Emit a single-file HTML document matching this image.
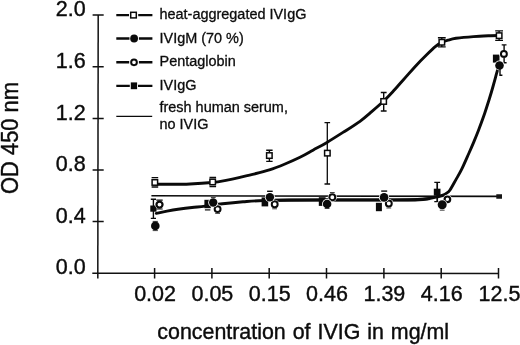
<!DOCTYPE html>
<html>
<head>
<meta charset="utf-8">
<title>OD 450 nm vs concentration of IVIG</title>
<style>
html,body{margin:0;padding:0;background:#fff;}
body{width:520px;height:345px;overflow:hidden;font-family:"Liberation Sans",sans-serif;}
svg{display:block;will-change:transform;}
text{font-family:"Liberation Sans",sans-serif;fill:#0c0c0c;stroke:#0c0c0c;stroke-width:0.4;}
.ax{stroke:#111;stroke-width:1.5;fill:none;}
.tk{font-size:21.5px;}
.lg text{font-size:14.45px;stroke-width:0.3;}
.eb{stroke:#0a0a0a;stroke-width:1.4;fill:none;}
.ebt{stroke:#444;stroke-width:1;fill:none;}
.cv{stroke:#0a0a0a;stroke-width:2.9;fill:none;stroke-linecap:round;stroke-linejoin:round;}
.os{fill:#fff;stroke:#0a0a0a;stroke-width:1.5;}
.oc{fill:#fff;stroke:#0a0a0a;stroke-width:2;}
.fc{fill:#0a0a0a;stroke:#fff;stroke-width:0.9;}
.f{fill:#0a0a0a;}
</style>
</head>
<body>
<svg width="520" height="345" viewBox="0 0 520 345">
<rect width="520" height="345" fill="#fff"/>

<g class="ax">
<path d="M98.2 15.1L97.8 278.5"/>
<path d="M92.3 273.2L498.9 273.5"/>
<path d="M92.6 15.1H103.7M92.6 66.7H103.7M92.6 118.4H103.7M92.6 170.0H103.7M92.6 221.6H103.7"/>
<path d="M154.6 268V278.6M211.9 268V278.6M269.2 268V278.6M326.5 268V278.6M383.9 268V278.6M441.2 268V278.6M498.5 268V278.6"/>
</g>
<g class="tk" text-anchor="end">
<text x="85.7" y="16.4">2.0</text>
<text x="85.7" y="68.0">1.6</text>
<text x="85.7" y="119.7">1.2</text>
<text x="85.7" y="171.3">0.8</text>
<text x="85.7" y="222.9">0.4</text>
<text x="85.7" y="274.4">0.0</text>
</g>
<g class="tk" text-anchor="middle">
<text x="155.1" y="300.5">0.02</text>
<text x="212.4" y="300.5">0.05</text>
<text x="269.7" y="300.5">0.15</text>
<text x="327.0" y="300.5">0.46</text>
<text x="384.4" y="300.5">1.39</text>
<text x="441.7" y="300.5">4.16</text>
<text x="499.5" y="300.5">12.5</text>
</g>
<text transform="translate(157.3 339) scale(1 1.04)" font-size="21.4" word-spacing="1">concentration of IVIG in mg/ml</text>
<text transform="translate(17.7 193.9) rotate(-90) scale(1 1.07)" font-size="21.9">OD 450 nm</text>
<g>
<path d="M116.3 15.1H152.4M116.3 38.5H152.4M116.3 62.2H152.4M116.3 85.9H152.4" stroke="#0a0a0a" stroke-width="2.4" fill="none"/>
<path d="M116.3 116.4H152.2" stroke="#0a0a0a" stroke-width="1.3" fill="none"/>
<path d="M129 15.1H138.2M129.5 38.5H138.9M129.2 62.3H138.9M129.8 85.8H138" stroke="#fff" stroke-width="4" fill="none"/>
<rect class="os" x="130.7" y="12.3" width="5.6" height="5.6" stroke-width="1.5"/>
<circle class="f" cx="134.1" cy="38.5" r="3.9"/>
<circle class="oc" cx="134" cy="62.3" r="2.85" stroke-width="2"/>
<rect class="f" x="130.8" y="82.4" width="6.3" height="6.8"/>
<g class="lg">
<text x="159.5" y="19">heat-aggregated IVIgG</text>
<text x="159.5" y="42.5">IVIgM (70 %)</text>
<text x="159.5" y="66.2">Pentaglobin</text>
<text x="159.5" y="89.7">IVIgG</text>
<text x="159.5" y="112.1">fresh human serum,</text>
<text x="159.5" y="129.1">no IVIG</text>
</g>
</g>
<path d="M151.4 195.75L499 196.35" stroke="#0a0a0a" stroke-width="1.6" fill="none"/>
<path d="M496.3 195H502M496.3 196.5H502M496.3 198H502" stroke="#151515" stroke-width="1.45" fill="none"/>
<path class="cv" d="M156.0 184.2 C158.7 184.2 166.3 184.3 172.0 184.3 C177.7 184.3 183.3 184.3 190.0 184.0 C196.7 183.7 206.0 183.1 212.0 182.5 C218.0 181.9 221.3 181.2 226.0 180.3 C230.7 179.4 235.2 178.4 240.0 177.3 C244.8 176.2 250.1 175.0 255.0 173.8 C259.9 172.6 264.4 171.5 269.4 169.9 C274.4 168.3 279.9 166.1 285.0 164.0 C290.1 161.9 295.3 159.6 300.0 157.3 C304.7 155.0 308.5 152.7 313.0 150.2 C317.5 147.7 322.0 145.4 327.0 142.4 C332.0 139.4 337.5 135.9 343.0 132.4 C348.5 128.9 355.2 124.8 360.0 121.3 C364.8 117.8 368.0 114.8 372.0 111.4 C376.0 108.0 380.7 103.9 384.0 100.8 C387.3 97.7 388.4 96.5 391.6 93.0 C394.8 89.5 399.3 84.3 403.2 80.0 C407.1 75.7 410.9 71.1 414.8 66.9 C418.7 62.7 422.9 58.4 426.4 55.0 C429.9 51.6 433.1 48.5 435.6 46.4 C438.1 44.3 439.5 43.6 441.6 42.6 C443.7 41.6 445.6 40.9 448.0 40.2 C450.4 39.5 451.8 38.9 456.0 38.3 C460.2 37.7 467.6 37.0 473.4 36.6 C479.2 36.2 486.5 35.9 490.8 35.7 C495.1 35.5 497.6 35.5 499.0 35.5"/>
<path class="cv" d="M156.3 213.4 C158.1 213.0 163.4 211.9 167.0 211.2 C170.6 210.5 173.8 209.9 178.0 209.3 C182.2 208.7 187.5 208.0 192.0 207.5 C196.5 207.0 199.9 206.7 205.0 206.1 C210.1 205.5 216.2 204.5 222.5 203.8 C228.8 203.1 236.9 202.3 243.0 201.8 C249.1 201.3 251.2 201.0 259.0 200.7 C266.8 200.4 278.2 200.0 290.0 199.9 C301.8 199.8 316.7 199.9 330.0 199.9 C343.3 199.9 357.0 199.9 370.0 199.9 C383.0 199.9 398.4 199.9 408.0 199.7 C417.6 199.5 422.5 199.1 427.3 198.7 C432.1 198.2 434.3 197.6 436.9 197.0 C439.5 196.4 441.3 195.9 443.0 195.2 C444.7 194.5 445.8 193.8 447.0 192.9 C448.2 192.0 448.5 192.2 450.0 190.0 C451.5 187.8 453.9 183.3 455.8 179.9 C457.7 176.5 459.7 173.3 461.6 169.4 C463.5 165.5 465.5 160.9 467.4 156.6 C469.3 152.3 471.3 148.0 473.2 143.4 C475.1 138.8 477.1 134.1 479.0 129.0 C480.9 123.9 483.1 118.0 484.8 113.0 C486.5 108.0 487.9 103.4 489.3 99.0 C490.7 94.6 491.9 90.5 493.0 86.5 C494.1 82.5 495.1 78.9 496.1 75.2 C497.1 71.5 498.6 66.1 499.1 64.3"/>
<path d="M262 200.4C280 199.9 300 199.9 330 199.9H415C420 199.9 426 199.4 430 198.6" stroke="#0a0a0a" stroke-width="3.05" fill="none"/>
<g class="eb">
<path stroke-width="1.3" d="M327.3 122.7V184.0M324.5 122.7H330.1M324.5 184.0H330.1"/>
<path d="M269.4 150.3V161.4M266.2 150.3H272.6M266.2 161.4H272.6"/>
<path d="M383.7 92.5V111.0M380.8 92.5H386.6M380.8 111.0H386.6"/>
<path d="M441.8 37.8V46.9M437.9 37.8H445.7M437.9 46.9H445.7"/>
<path d="M499.1 30.9V40.4M495.2 30.9H503.0M495.2 40.4H503.0"/>
</g>
<g class="eb"><path stroke-width="1.3" d="M151.6 177.7H158.2M151.6 187.0H158.2M209.5 177.5H216.1M209.5 186.5H216.1"/></g>
<g class="os">
<rect x="152.1" y="179.7" width="5.5" height="5.5"/>
<rect x="209.9" y="179.2" width="5.5" height="5.5"/>
<rect x="266.6" y="152.8" width="5.5" height="5.5"/>
<rect x="324.6" y="150.4" width="5.5" height="5.5"/>
<rect x="380.9" y="98.7" width="5.5" height="5.5"/>
<rect x="439.1" y="39.5" width="5.5" height="5.5"/>
<rect x="496.4" y="32.9" width="5.5" height="5.5"/>
</g>
<g class="eb">
<path d="M153.4 199.2V218.4M150.8 199.2H156.0M150.8 218.4H156.0"/>
<path stroke-width="1.7" d="M437.2 182.3V201.6"/>
<path stroke-width="1.3" d="M434.3 182.3H440.1M434.3 201.6H440.1"/>
<path stroke-width="1.2" d="M204.9 209.9H210.4"/>
</g>
<g class="f">
<rect x="150.3" y="205.5" width="6.2" height="6.2"/>
<rect x="204.4" y="199.8" width="6.4" height="8.4"/>
<rect x="261.6" y="197.4" width="6.6" height="9.0"/>
<rect x="318.8" y="197.2" width="6.8" height="8.7"/>
<rect x="375.9" y="202.8" width="6.0" height="8.4"/>
<rect x="433.8" y="188.7" width="6.7" height="7.0"/>
<rect x="492.9" y="54.6" width="6.6" height="8.0"/>
</g>
<g fill="#fff">
<circle cx="159.5" cy="204.6" r="4.6"/>
<circle cx="217.6" cy="209.1" r="4.6"/>
<circle cx="274.7" cy="204.3" r="4.6"/>
<circle cx="332.3" cy="197.2" r="4.6"/>
<circle cx="388.8" cy="203.5" r="4.6"/>
<circle cx="447.4" cy="199.3" r="4.6"/>
<circle cx="503.9" cy="53.9" r="4.6"/>
</g>
<g class="eb">
<path stroke-width="1.2" d="M156.3 200.2H162.7M156.3 209.0H162.7"/>
<path d="M504.1 44.9V62.7M501.7 44.9H506.5M503.4 62.7H506.6"/>
</g>
<g class="ebt"><path d="M215.2 213.4H220.0M272.2 208.8H277.0M329.9 192.5H334.7M386.4 208.0H391.2"/></g>
<g class="oc">
<circle cx="159.5" cy="204.6" r="3.05" stroke-width="2.2"/>
<circle cx="217.6" cy="209.1" r="2.95"/>
<circle cx="274.7" cy="204.3" r="2.95"/>
<circle cx="332.3" cy="197.2" r="2.95"/>
<circle cx="388.8" cy="203.5" r="2.95"/>
<circle cx="447.4" cy="199.3" r="2.8" stroke-width="2.2"/>
<circle cx="503.9" cy="53.9" r="2.95"/>
</g>
<g fill="#fff">
<circle cx="155.3" cy="225.9" r="5.1"/>
<circle cx="213.2" cy="202.5" r="5.0"/>
<circle cx="269.9" cy="197.2" r="5.0"/>
<circle cx="327.1" cy="204.0" r="5.1"/>
<circle cx="384.1" cy="197.4" r="5.1"/>
<circle cx="442.2" cy="204.7" r="5.2"/>
<circle cx="499.5" cy="65.5" r="5.1"/>
</g>
<g class="eb">
<path d="M267.1 191.3H272.7"/>
<path d="M381.2 191.1H387.2"/>
<path d="M500 66V75.2M499.3 75.2H502.4"/>
</g>
<g class="ebt"><path d="M152.7 221.4H157.9M152.7 230.6H157.9M210.9 197.5H215.7M324.7 208.5H329.5M439.8 210.2H444.6"/></g>
<g class="f">
<circle cx="155.3" cy="225.9" r="4.3"/>
<circle cx="213.2" cy="202.5" r="4.2"/>
<circle cx="269.9" cy="197.2" r="4.2"/>
<circle cx="327.1" cy="204.0" r="4.3"/>
<circle cx="384.1" cy="197.4" r="4.3"/>
<circle cx="442.2" cy="204.7" r="4.5"/>
<circle cx="499.5" cy="65.5" r="4.3"/>
</g>
</svg>
</body>
</html>
